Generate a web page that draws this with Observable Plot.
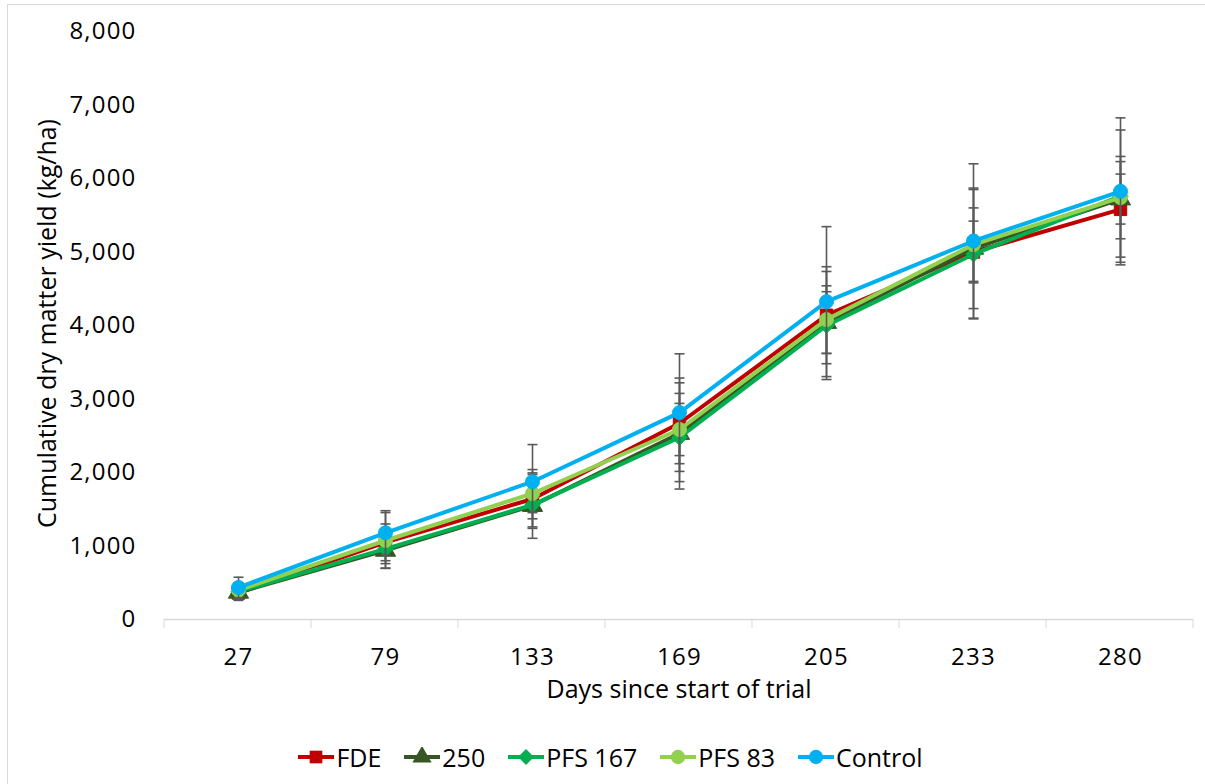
<!DOCTYPE html>
<html>
<head>
<meta charset="utf-8">
<script src="https://cdn.jsdelivr.net/npm/d3@7"></script>
<script src="https://cdn.jsdelivr.net/npm/@observablehq/plot@0.6"></script>
<style>
  html, body { margin: 0; padding: 0; background: #fff; }
  #frame {
    position: relative; width: 1205px; height: 784px; overflow: hidden;
    font-family: "Open Sans", "Noto Sans", sans-serif; color: #000;
  }
  #frame::before {
    content: ""; position: absolute; left: 7px; top: 4px; right: 0; bottom: 0;
    border-top: 1px solid #d9d9d9; border-left: 1px solid #d9d9d9; pointer-events: none;
  }
  #chart { position: absolute; left: 0; top: 0; }
  #chart svg g[aria-label="x-axis tick label"] text,
  #chart svg g[aria-label="y-axis tick label"] text { letter-spacing: 1.2px; }
  #legend {
    position: absolute; left: 8px; top: 739px; width: 1205px; height: 36px;
    display: flex; justify-content: center; align-items: center;
    font-size: 25px;
  }
  .item { display: flex; align-items: center; margin: 0 11.5px; }
  .item svg { margin-right: 2px; }
</style>
</head>
<body>
<div id="frame">
  <div id="chart"></div>
  <div id="legend"></div>
</div>
<script>
// Sampling days (categories on the x axis)
const days = ["27", "79", "133", "169", "205", "233", "280"];

// Treatments, drawing order and styles
const series = ["FDE", "250", "PFS 167", "PFS 83", "Control"];
const colors = ["#C00000", "#375623", "#00B050", "#92D050", "#00B0F0"];
const symbols = ["square", "triangle", "diamond2", "circle", "circle"];

// Cumulative dry matter yield (kg/ha) per treatment
const fde     = [360, 1050, 1640, 2670, 4140, 5000, 5580];
const t250    = [370,  940, 1550, 2530, 4040, 5050, 5720];
const pfs167  = [380,  960, 1560, 2476, 4000, 4970, 5760];
const pfs83   = [400, 1075, 1714, 2585, 4080, 5100, 5740];
const control = [435, 1180, 1875, 2815, 4325, 5150, 5825];

// Standard errors (kg/ha) per treatment
const fdeErr     = [100, 250, 400, 550, 660, 420, 650];
const t250Err    = [ 90, 240, 445, 755, 420, 820, 340];
const pfs167Err  = [ 90, 200, 300, 600, 735, 880, 900];
const pfs83Err   = [100, 380, 260, 355, 460, 500, 560];
const controlErr = [140, 300, 505, 800, 1020, 1050, 1000];

const values = [fde, t250, pfs167, pfs83, control];
const errors = [fdeErr, t250Err, pfs167Err, pfs83Err, controlErr];

const rows = series.flatMap((s, k) =>
  days.map((d, i) => ({series: s, day: d, value: values[k][i], err: errors[k][i]}))
);

// Short horizontal stroke used as error-bar caps
const capSymbol = {
  draw(context, size) {
    const w = Math.sqrt(size / Math.PI);
    context.moveTo(-w, 0);
    context.lineTo(w, 0);
  }
};

// Category boundary ticks below the x axis
const boundaryTicks = (index, scales, vals, dims) => {
  const g = d3.create("svg:g").attr("stroke", "#d9d9d9").attr("stroke-width", 1);
  const step = (dims.width - dims.marginLeft - dims.marginRight) / days.length;
  const y0 = scales.y(0);
  for (let i = 0; i <= days.length; i++) {
    const x = dims.marginLeft + i * step;
    g.append("line").attr("x1", x).attr("x2", x).attr("y1", y0).attr("y2", y0 + 9);
  }
  return g.node();
};

const errColor = "#595959";
const marks = [
  Plot.ruleY([0], {stroke: "#d9d9d9", strokeWidth: 1.5}),
  boundaryTicks
];
series.forEach((s, k) => {
  const data = rows.filter(r => r.series === s);
  marks.push(
    Plot.ruleX(data, {x: "day", y1: d => d.value - d.err, y2: d => d.value + d.err,
      stroke: errColor, strokeWidth: 1.6}),
    Plot.dot(data, {x: "day", y: d => d.value + d.err, symbol: capSymbol, r: 5,
      stroke: errColor, strokeWidth: 1.6}),
    Plot.dot(data, {x: "day", y: d => d.value - d.err, symbol: capSymbol, r: 5,
      stroke: errColor, strokeWidth: 1.6}),
    Plot.line(data, {x: "day", y: "value", stroke: colors[k], strokeWidth: 4}),
    Plot.dot(data, {x: "day", y: "value", symbol: symbols[k], r: symbols[k] === "triangle" ? 7.5 : 7,
      fill: colors[k], stroke: colors[k], strokeWidth: 1})
  );
});
marks.push(
  Plot.text(["Days since start of trial"], {frameAnchor: "bottom", dy: 78, fontSize: 25, fill: "#000"}),
  Plot.text(["Cumulative dry matter yield (kg/ha)"], {frameAnchor: "left", textAnchor: "middle", dx: -117, dy: -2, rotate: -90, fontSize: 25, fill: "#000"})
);

const chart = Plot.plot({
  width: 1205,
  height: 725,
  marginTop: 31,
  marginBottom: 106,
  marginLeft: 164,
  marginRight: 12,
  style: {fontFamily: "'Open Sans', 'Noto Sans', sans-serif", fontSize: "24px", color: "#000", background: "transparent"},
  x: {type: "point", domain: days, padding: 0.5, label: null, tickSize: 0, tickPadding: 28},
  y: {domain: [0, 8000], ticks: d3.range(0, 8001, 1000), tickFormat: d3.format(","), label: null, tickSize: 0, tickPadding: 28},
  marks
});
document.getElementById("chart").appendChild(chart);

// Legend: line + marker swatch for each treatment
const legend = d3.select("#legend");
series.forEach((s, k) => {
  const item = legend.append("div").attr("class", "item");
  const svg = item.append("svg").attr("width", 36).attr("height", 20);
  svg.append("line").attr("x1", 0).attr("x2", 36).attr("y1", 10).attr("y2", 10)
    .attr("stroke", colors[k]).attr("stroke-width", 4);
  const symType = {square: d3.symbolSquare, triangle: d3.symbolTriangle, diamond2: d3.symbolDiamond2, circle: d3.symbolCircle}[symbols[k]];
  svg.append("path").attr("transform", "translate(18,10)")
    .attr("d", d3.symbol(symType, 160)()).attr("fill", colors[k]);
  item.append("span").text(s);
});
</script>
</body>
</html>
